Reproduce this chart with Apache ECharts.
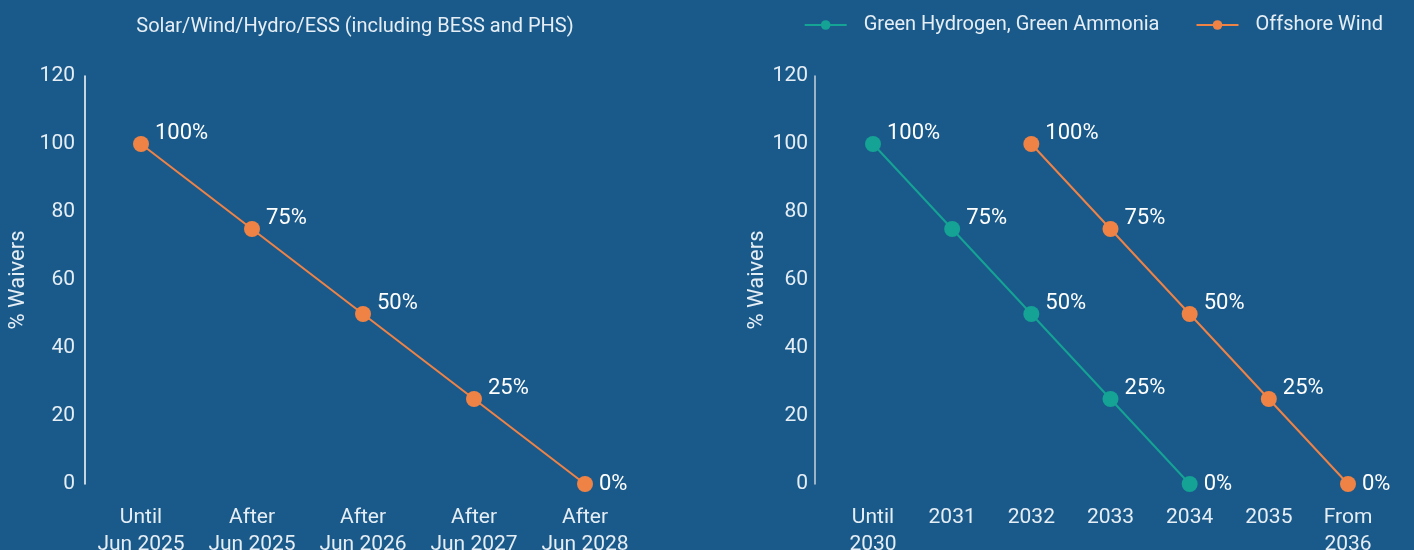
<!DOCTYPE html>
<html><head><meta charset="utf-8">
<script src="https://cdn.jsdelivr.net/npm/echarts@6/dist/echarts.min.js"></script>
<style>html,body{margin:0;padding:0;background:#1a5a8b;}#c{width:1414px;height:550px;}</style>
</head><body><div id="c"></div>
<script>
const leftTitle = "Solar/Wind/Hydro/ESS (including BESS and PHS)";
const leftCategories = ["Until\nJun 2025","After\nJun 2025","After\nJun 2026","After\nJun 2027","After\nJun 2028"];
const leftValues = [100,75,50,25,0];
const rightCategories = ["Until\n2030","2031","2032","2033","2034","2035","From\n2036"];
const hydrogenValues = [100,75,50,25,0,null,null];
const offshoreValues = [null,null,100,75,50,25,0];
const yTicks = {min:0,max:120,interval:20};
const yName = "% Waivers";

const FONT = "'Roboto',sans-serif";
const TXT = "#e6eef5";
const ORANGE = "#ef8245";
const TEAL = "#14a394";

const chart = echarts.init(document.getElementById('c'));
function yAx(grid, offset, lineColor, margin, gap){
  return {type:'value', gridIndex:grid, min:yTicks.min, max:yTicks.max, interval:yTicks.interval,
    offset:offset,
    name:yName, nameLocation:'middle', nameGap:gap, nameRotate:90,
    nameTextStyle:{color:TXT,fontSize:22,fontFamily:FONT},
    axisLine:{show:true,lineStyle:{color:lineColor,width:1.5}},
    axisTick:{show:false}, splitLine:{show:false},
    axisLabel:{color:TXT,fontSize:21,fontFamily:FONT,margin:margin}};
}
function xAx(grid, cats){
  return {type:'category', gridIndex:grid, data:cats, boundaryGap:false,
    axisLine:{show:false}, axisTick:{show:false}, splitLine:{show:false},
    axisLabel:{color:TXT,fontSize:21,fontFamily:FONT,margin:20,lineHeight:27,interval:0,verticalAlign:'top'}};
}
function lbl(){
  return {show:true, position:'right', distance:6, offset:[0,-11], color:'#ffffff', fontSize:22, fontFamily:FONT,
    formatter:p=>p.value==null?'':p.value+'%'};
}
// last (0%) label sits level with its point
function pts(arr){
  return arr.map(v => v === 0 ? {value:v, label:{offset:[0,0]}} : v);
}
chart.setOption({
  backgroundColor:'#1a5a8b',
  animation:false,
  title:{text:leftTitle, left:350, textAlign:'center', top:12,
    textStyle:{color:TXT,fontSize:20,fontWeight:'normal',fontFamily:FONT}},
  legend:{data:['Green Hydrogen, Green Ammonia','Offshore Wind'], right:26, top:10, itemGap:36,
    itemWidth:42, itemHeight:12,
    textStyle:{color:TXT,fontSize:20,fontFamily:FONT,padding:[0,0,0,12]}},
  grid:[
    {left:141, width:444, top:76, height:408, outerBoundsMode:'none', containLabel:false},
    {left:873, width:475, top:76, height:408, outerBoundsMode:'none', containLabel:false}
  ],
  xAxis:[xAx(0,leftCategories), xAx(1,rightCategories)],
  yAxis:[yAx(0,56,'#ffffff',10,56), yAx(1,58,'#c9d3dd',7,38)],
  series:[
    {name:'Solar/Wind/Hydro/ESS', type:'line', xAxisIndex:0, yAxisIndex:0, data:pts(leftValues),
      symbol:'circle', symbolSize:16, itemStyle:{color:ORANGE}, lineStyle:{color:ORANGE,width:2}, label:lbl()},
    {name:'Green Hydrogen, Green Ammonia', type:'line', xAxisIndex:1, yAxisIndex:1, data:pts(hydrogenValues),
      symbol:'circle', symbolSize:16, itemStyle:{color:TEAL}, lineStyle:{color:TEAL,width:2}, label:lbl()},
    {name:'Offshore Wind', type:'line', xAxisIndex:1, yAxisIndex:1, data:pts(offshoreValues),
      symbol:'circle', symbolSize:16, itemStyle:{color:ORANGE}, lineStyle:{color:ORANGE,width:2}, label:lbl()}
  ]
});
</script></body></html>
